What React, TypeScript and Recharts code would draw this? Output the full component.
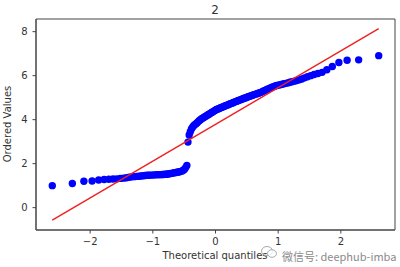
import React from 'react';
import { ScatterChart, Scatter, XAxis, YAxis, ReferenceArea } from 'recharts';

const theoreticalQuantiles = [
  -2.604, -2.284, -2.1, -1.969, -1.864, -1.777, -1.701, -1.634, -1.574, -1.519,
  -1.468, -1.42, -1.376, -1.335, -1.295, -1.257, -1.221, -1.187, -1.154, -1.122,
  -1.092, -1.062, -1.033, -1.005, -0.977, -0.951, -0.925, -0.9, -0.875, -0.851,
  -0.827, -0.804, -0.781, -0.759, -0.737, -0.715, -0.693, -0.673, -0.652, -0.631,
  -0.611, -0.591, -0.571, -0.552, -0.533, -0.513, -0.494, -0.476, -0.457, -0.439,
  -0.42, -0.402, -0.384, -0.366, -0.348, -0.331, -0.313, -0.296, -0.279, -0.261,
  -0.244, -0.227, -0.21, -0.193, -0.176, -0.159, -0.142, -0.126, -0.109, -0.092,
  -0.075, -0.058, -0.042, -0.025, -0.008, 0.008, 0.025, 0.042, 0.058, 0.075,
  0.092, 0.109, 0.126, 0.142, 0.159, 0.176, 0.193, 0.21, 0.227, 0.244,
  0.261, 0.279, 0.296, 0.313, 0.331, 0.348, 0.366, 0.384, 0.402, 0.42,
  0.439, 0.457, 0.476, 0.494, 0.513, 0.533, 0.552, 0.571, 0.591, 0.611,
  0.631, 0.652, 0.673, 0.693, 0.715, 0.737, 0.759, 0.781, 0.804, 0.827,
  0.851, 0.875, 0.9, 0.925, 0.951, 0.977, 1.005, 1.033, 1.062, 1.092,
  1.122, 1.154, 1.187, 1.221, 1.257, 1.295, 1.335, 1.376, 1.42, 1.468,
  1.519, 1.574, 1.634, 1.701, 1.777, 1.864, 1.969, 2.1, 2.284, 2.604,
];

const orderedValues = [
  1.0, 1.1, 1.2, 1.21, 1.26, 1.28, 1.29, 1.3, 1.31, 1.33,
  1.34, 1.36, 1.38, 1.4, 1.41, 1.42, 1.43, 1.44, 1.45, 1.46,
  1.47, 1.47, 1.48, 1.48, 1.49, 1.49, 1.5, 1.5, 1.5, 1.51,
  1.51, 1.52, 1.52, 1.53, 1.54, 1.55, 1.56, 1.58, 1.59, 1.6,
  1.61, 1.62, 1.63, 1.65, 1.67, 1.7, 1.75, 1.82, 1.92, 2.98,
  3.3, 3.45, 3.58, 3.66, 3.72, 3.77, 3.81, 3.85, 3.9, 3.95,
  3.99, 4.03, 4.06, 4.09, 4.12, 4.15, 4.18, 4.21, 4.24, 4.27,
  4.3, 4.33, 4.36, 4.39, 4.42, 4.45, 4.47, 4.49, 4.51, 4.53,
  4.55, 4.57, 4.59, 4.61, 4.63, 4.65, 4.67, 4.69, 4.71, 4.73,
  4.75, 4.77, 4.79, 4.81, 4.83, 4.85, 4.87, 4.89, 4.91, 4.93,
  4.95, 4.97, 4.99, 5.01, 5.03, 5.05, 5.07, 5.09, 5.11, 5.13,
  5.15, 5.17, 5.19, 5.21, 5.23, 5.26, 5.29, 5.32, 5.35, 5.38,
  5.41, 5.44, 5.47, 5.5, 5.53, 5.55, 5.57, 5.59, 5.61, 5.63,
  5.65, 5.67, 5.7, 5.72, 5.75, 5.78, 5.81, 5.85, 5.9, 5.95,
  6.0, 6.05, 6.1, 6.15, 6.27, 6.42, 6.6, 6.7, 6.72, 6.91,
];

const fitLineX = [-2.604, 2.604];
const fitLineY = [-0.57, 8.14];

const xTicks = [-2, -1, 0, 1, 2];
const yTicks = [0, 2, 4, 6, 8];
const xDomain = [-2.864, 2.864];
const yDomain = [-1.016, 8.576];

const titleText = '2';
const xLabelText = 'Theoretical quantiles';
const yLabelText = 'Ordered Values';
const watermarkText = '微信号: deephub-imba';

const points = theoreticalQuantiles.map((x, i) => ({ x, y: orderedValues[i] }));
const fitLine = fitLineX.map((x, i) => ({ x, y: fitLineY[i] }));

const fmt = (v: number) => (v < 0 ? '\u2212' + Math.abs(v) : String(v));

const FONT = '"DejaVu Sans", sans-serif';
const tickStyle = { fill: '#333', fontSize: 10, fontFamily: FONT };

const Dot = (props: any) => {
  const { cx, cy } = props;
  if (cx == null || cy == null) return <g />;
  return <circle cx={cx} cy={cy} r={3.7} fill="#0000ff" />;
};

const NoShape = () => <g />;

export default function App() {
  return (
    <div style={{ position: 'absolute', left: 0, top: 0, width: 400, height: 267, background: '#fff' }}>
      <ScatterChart width={400} height={267} margin={{ top: 19, right: 5, bottom: 0, left: 0 }}>
        <XAxis
          type="number"
          dataKey="x"
          domain={xDomain}
          ticks={xTicks}
          allowDataOverflow
          height={37}
          tickSize={3.5}
          tickMargin={4}
          tickFormatter={fmt}
          tick={tickStyle}
          axisLine={{ stroke: '#444' }}
          tickLine={{ stroke: '#444' }}
        />
        <YAxis
          type="number"
          dataKey="y"
          domain={yDomain}
          ticks={yTicks}
          allowDataOverflow
          width={36}
          tickSize={3.5}
          tickMargin={5}
          tickFormatter={fmt}
          tick={tickStyle}
          axisLine={{ stroke: '#444' }}
          tickLine={{ stroke: '#444' }}
        />
        <ReferenceArea
          x1={xDomain[0]}
          x2={xDomain[1]}
          y1={yDomain[0]}
          y2={yDomain[1]}
          fill="none"
          fillOpacity={0}
          stroke="#444"
          strokeWidth={1}
        />
        <Scatter data={points} shape={Dot} isAnimationActive={false} />
        <Scatter
          data={fitLine}
          shape={NoShape}
          line={{ stroke: '#f02020', strokeWidth: 1.4 }}
          isAnimationActive={false}
        />
      </ScatterChart>
      <div
        style={{
          position: 'absolute', left: 165, width: 100, top: 3, textAlign: 'center',
          fontFamily: FONT, fontSize: 12, color: '#333', lineHeight: '14px',
        }}
      >
        {titleText}
      </div>
      <div
        style={{
          position: 'absolute', left: 115, width: 200, top: 250, textAlign: 'center',
          fontFamily: FONT, fontSize: 10, color: '#333', lineHeight: '12px',
        }}
      >
        {xLabelText}
      </div>
      <div
        style={{
          position: 'absolute', left: 8 - 60, width: 120, top: 124 - 6, textAlign: 'center',
          fontFamily: FONT, fontSize: 10, color: '#333', lineHeight: '12px',
          transform: 'rotate(-90deg)', transformOrigin: '60px 6px',
        }}
      >
        {yLabelText}
      </div>
      <svg style={{ position: 'absolute', left: 260, top: 245 }} width={20} height={14}>
        <ellipse cx={7} cy={6} rx={5.5} ry={4.5} fill="none" stroke="#aaa" strokeWidth={1} />
        <ellipse cx={12} cy={8.5} rx={4.5} ry={3.8} fill="rgba(255,255,255,0.8)" stroke="#aaa" strokeWidth={1} />
      </svg>
      <div
        style={{
          position: 'absolute', left: 282, top: 250, whiteSpace: 'nowrap',
          fontFamily: '"Noto Sans CJK SC", "DejaVu Sans", sans-serif', fontSize: 11, color: '#8a8a8a',
          lineHeight: '12px', textShadow: '0 0 1px #fff',
        }}
      >
        {watermarkText}
      </div>
    </div>
  );
}
